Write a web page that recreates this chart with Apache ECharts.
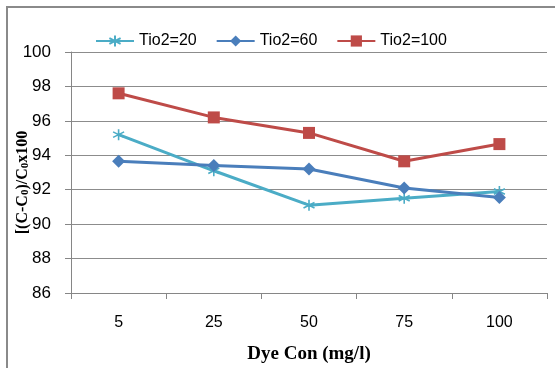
<!DOCTYPE html>
<html>
<head>
<meta charset="utf-8">
<script src="https://cdn.jsdelivr.net/npm/echarts@6/dist/echarts.min.js"></script>
<style>html,body{margin:0;padding:0;background:#fff}#c{width:555px;height:368px}</style>
</head>
<body>
<div id="c"></div>
<script>
var categories = ['5', '25', '50', '75', '100'];
var tio2_20 = [95.2, 93.1, 91.1, 91.5, 91.9];
var tio2_60 = [93.65, 93.4, 93.2, 92.1, 91.55];
var tio2_100 = [97.6, 96.2, 95.3, 93.65, 94.65];
var seriesNames = ['Tio2=20', 'Tio2=60', 'Tio2=100'];

var chart = echarts.init(document.getElementById('c'));
var asterisk = 'path://M5,0 L5,10 M0.67,2.5 L9.33,7.5 M0.67,7.5 L9.33,2.5';
chart.setOption({
  animation: false,
  backgroundColor: '#fff',
  graphic: [{
    type: 'rect', shape: {x: 7, y: 7, width: 700, height: 500},
    style: {fill: 'none', stroke: '#8a8a8a', lineWidth: 2}, z: -1
  }],
  legend: {
    top: 28, left: 90, itemWidth: 38, itemHeight: 14, itemGap: 19,
    textStyle: {fontFamily: 'Liberation Sans', fontSize: 16, color: '#000'},
    data: seriesNames
  },
  grid: {left: 71, right: 8, top: 52, bottom: 75, containLabel: false, outerBoundsMode: 'none'},
  xAxis: {
    type: 'category', data: categories, boundaryGap: true,
    axisLine: {lineStyle: {color: '#868686', width: 1}},
    axisTick: {show: true, length: 6, lineStyle: {color: '#868686'}},
    axisLabel: {fontFamily: 'Liberation Sans', fontSize: 16, color: '#000', margin: 22},
    name: 'Dye Con (mg/l)', nameLocation: 'middle', nameGap: 52, nameMoveOverlap: false,
    nameTextStyle: {fontFamily: 'Liberation Serif', fontWeight: 'bold', fontSize: 19, color: '#000'}
  },
  yAxis: {
    type: 'value', min: 86, max: 100, interval: 2,
    axisLine: {show: true, lineStyle: {color: '#868686', width: 1}},
    axisTick: {show: true, length: 6, lineStyle: {color: '#868686'}},
    splitLine: {lineStyle: {color: '#8c8c8c', width: 1}},
    axisLabel: {fontFamily: 'Liberation Sans', fontSize: 17, color: '#000', margin: 20},
    name: '{n|[(C-C}{s|0}{n|)/C}{s|0}{n|x100}', nameLocation: 'middle', nameGap: 40, nameMoveOverlap: false,
    nameTextStyle: {
      fontFamily: 'Liberation Serif', fontWeight: 'bold', fontSize: 16, color: '#000',
      padding: [0, 20, 0, 0],
      rich: {
        n: {fontFamily: 'Liberation Serif', fontWeight: 'bold', fontSize: 16, color: '#000'},
        s: {fontFamily: 'Liberation Serif', fontWeight: 'bold', fontSize: 11, color: '#000', verticalAlign: 'bottom', padding: [6, 0, 0, 0]}
      }
    }
  },
  series: [
    {
      name: seriesNames[0], type: 'line', data: tio2_20,
      symbol: asterisk, symbolSize: 11,
      lineStyle: {color: '#4BACC6', width: 3},
      itemStyle: {color: '#4BACC6', borderColor: '#4BACC6', borderWidth: 1.6}
    },
    {
      name: seriesNames[1], type: 'line', data: tio2_60,
      symbol: 'diamond', symbolSize: 13,
      lineStyle: {color: '#4A7EBB', width: 3},
      itemStyle: {color: '#4A7EBB'}
    },
    {
      name: seriesNames[2], type: 'line', data: tio2_100,
      symbol: 'rect', symbolSize: 12,
      lineStyle: {color: '#BE4B48', width: 3},
      itemStyle: {color: '#BE4B48'}
    }
  ]
});
</script>
</body>
</html>
